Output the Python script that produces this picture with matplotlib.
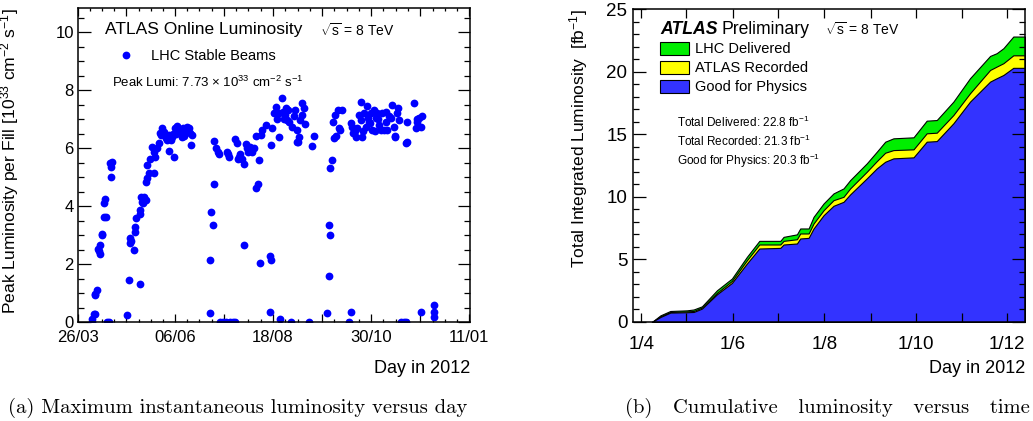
import numpy as np
import matplotlib
matplotlib.use("Agg")
import matplotlib.pyplot as plt

plt.rcParams['font.family'] = 'Liberation Sans'
plt.rcParams['mathtext.fontset'] = 'custom'
plt.rcParams['mathtext.rm'] = 'Liberation Sans'
plt.rcParams['mathtext.it'] = 'Liberation Sans:italic'
plt.rcParams['mathtext.bf'] = 'Liberation Sans:bold'

# ---- (a) peak luminosity per fill: day of year 2012, value in 1e33 cm-2 s-1
fill_day = [
    96.4, 96.4, 97.7, 98.9, 98.9, 100.1, 98.9, 100.8, 101.4, 102.2, 102.6, 103.9, 103.9,
    105.1, 106.3, 105.6, 106.5, 107.6, 108.8, 110.5, 110.8, 111.3, 110.1,
    122.5, 123.7, 124.4, 124.9, 125.4, 127.9, 128.7, 128.7, 129.4, 131.9, 131.9, 132.4,
    133.1, 133.6, 134.8, 136.2, 134.4, 136.2, 137.4, 137.4, 139.3, 138.6, 141.1, 142.4,
    142.4, 143.6, 144.8, 146.0, 146.8, 148.6, 149.8, 151.0, 152.2, 153.5, 153.5, 154.8,
    156.0, 157.2, 158.4, 159.6, 161.0, 162.2, 163.4, 164.1, 165.8, 167.2, 168.4, 169.6,
    170.8, 170.1, 147.5, 151.5, 156.6, 159.1, 162.2, 164.6,
    184.4, 184.4, 184.9, 186.2, 187.0, 187.0, 188.9, 190.0, 190.7, 191.9, 193.9, 195.7,
    196.9, 197.7, 198.1, 199.4, 201.4, 203.1, 203.1, 204.3, 204.8, 205.6, 206.8, 208.0,
    209.3, 209.8, 211.3, 211.8, 212.2, 213.7, 215.5, 216.7, 218.0, 219.8, 218.7, 220.5,
    221.2, 222.2, 222.9, 225.5, 228.6, 229.6, 229.1, 229.6, 230.4, 231.7, 232.9, 234.1,
    235.3, 236.5, 237.9, 238.6, 239.6, 240.8, 241.5, 244.1, 245.3, 246.5, 247.7, 248.6,
    249.0, 250.3, 251.0, 252.2, 252.7, 253.9, 254.5, 257.7, 260.1, 261.3,
    235.6, 239.2, 242.3, 242.8, 249.8,
    271.3, 272.5, 273.0, 273.2, 273.7, 275.0, 275.4, 276.2, 276.9, 278.1, 279.2, 279.9,
    281.2, 282.4, 287.4, 288.7, 288.7, 289.9, 290.6, 292.4, 293.2, 294.9, 296.1, 296.8,
    297.3, 298.6, 299.8, 301.1, 301.7, 303.1, 304.1, 304.8, 306.0, 307.3, 308.6, 309.8,
    311.0, 312.2, 313.6, 314.8, 316.0, 317.3, 318.5, 319.8, 321.0, 321.7, 323.0, 324.0,
    324.7, 326.0, 328.4, 329.6, 329.6, 330.9, 335.9, 337.1, 338.3, 339.6, 340.8, 341.3,
    342.0, 351.1, 351.1, 351.1,
    291.8, 298.0, 302.5, 306.8, 309.3, 315.4, 322.0, 330.3, 337.8,
]
fill_peak = [
    0.0, 0.12, 0.29, 0.29, 0.94, 1.12, 0.98, 2.53, 2.45, 2.65, 2.36, 3.05, 3.0,
    4.09, 4.23, 3.63, 3.63, 0.0, 0.0, 5.01, 5.36, 5.53, 5.5,
    0.23, 1.44, 2.71, 2.88, 2.8, 2.5, 3.28, 3.11, 3.57, 1.32, 3.86, 3.74,
    4.3, 4.15, 4.3, 4.2, 4.09, 4.84, 4.95, 5.41, 5.61, 5.15, 6.03, 5.88,
    5.15, 5.7, 5.99, 6.16, 6.53, 6.68, 6.57, 6.45, 6.28, 5.91, 6.45, 6.28,
    6.39, 5.7, 6.68, 6.76, 6.62, 6.51, 6.39, 6.68, 6.57, 6.74, 6.68, 6.51,
    6.45, 6.11, 6.45, 6.35, 6.5, 6.5, 6.6, 6.4,
    0.32, 2.13, 3.8, 3.34, 4.75, 6.24, 5.99, 5.86, 5.8, 0.0, 0.0, 0.0,
    5.88, 5.8, 5.7, 0.0, 0.0, 0.0, 6.3, 6.16, 5.61, 5.7, 5.8, 5.61,
    5.45, 2.65, 6.14, 5.99, 5.86, 6.05, 5.88, 5.99, 4.61, 4.76, 6.42, 5.59,
    2.05, 6.45, 6.62, 6.8, 2.27, 2.13, 0.35, 6.11, 6.68, 7.2, 7.41, 6.99,
    6.39, 0.12, 7.73, 7.26, 7.14, 7.37, 6.97, 0.0, 6.74, 7.09, 7.32, 6.62,
    6.22, 6.39, 6.97, 7.14, 7.55, 7.37, 6.83, 0.0, 6.07, 6.42,
    7.2, 7.0, 7.3, 6.9, 6.2,
    0.31, 1.6, 3.33, 3.0, 5.32, 5.59, 6.91, 6.34, 7.14, 6.42, 7.32, 6.68,
    6.62, 7.32, 0.0, 0.35, 6.85, 6.74, 6.51, 6.39, 6.68, 7.14, 6.97, 7.6,
    6.39, 7.2, 6.74, 7.45, 7.03, 6.85, 7.2, 6.62, 7.32, 7.03, 7.2, 6.8,
    6.63, 7.2, 6.62, 7.26, 6.62, 7.09, 7.03, 7.49, 6.74, 6.39, 7.2, 7.37,
    6.97, 0.0, 0.0, 0.0, 6.16, 6.91, 7.55, 6.68, 6.91, 7.03, 0.35, 6.74,
    7.09, 0.58, 0.35, 0.17,
    6.6, 6.6, 6.9, 6.6, 7.0, 6.9, 6.4, 6.2, 7.0,
]
a_tick_days = [86, 158, 231, 304, 377]
a_tick_labels = ['26/03', '06/06', '18/08', '30/10', '11/01']

# ---- (b) cumulative luminosity [fb-1]
cum_day = [99.0, 104.7, 111.3, 122.4, 126.9, 132.4, 142.4, 152.4, 162.4, 170.7,
           184.7, 186.9, 195.8, 198.0, 203.6, 206.9, 213.6, 220.2, 226.9, 231.3,
           242.4, 249.1, 254.7, 260.2, 273.6, 282.4, 289.1, 300.2, 311.3, 324.7,
           329.1, 333.6, 340.2, 348.0]
delivered = [0.0, 0.53, 0.88, 0.93, 1.0, 1.25, 2.53, 3.47, 5.2, 6.48,
             6.48, 6.8, 7.0, 7.47, 7.47, 8.4, 9.47, 10.27, 10.67, 11.33,
             12.67, 13.6, 14.4, 14.67, 14.75, 16.08, 16.13, 17.6, 19.47, 21.25,
             21.47, 21.87, 22.8, 22.8]
recorded = [0.0, 0.45, 0.8, 0.85, 0.88, 1.15, 2.32, 3.28, 4.93, 6.19,
            6.19, 6.48, 6.61, 7.07, 7.07, 7.87, 8.93, 9.73, 10.0, 10.67,
            12.0, 12.85, 13.52, 13.73, 13.79, 15.07, 15.12, 16.53, 18.27, 20.13,
            20.4, 20.67, 21.3, 21.3]
good = [0.0, 0.4, 0.75, 0.78, 0.8, 1.07, 2.21, 3.12, 4.67, 5.87,
        5.92, 6.19, 6.27, 6.67, 6.72, 7.47, 8.53, 9.28, 9.6, 10.19,
        11.47, 12.27, 12.8, 13.07, 13.15, 14.4, 14.45, 15.87, 17.6, 19.2,
        19.47, 19.73, 20.3, 20.3]
b_tick_days = [92, 122, 153, 183, 214, 245, 275, 306, 336]
b_tick_labels = ['1/4', '', '1/6', '', '1/8', '', '1/10', '', '1/12']

W, H = 1033, 421
fig = plt.figure(figsize=(W / 100, H / 100), dpi=100)

def frac(x0, y0, x1, y1):
    return [x0 / W, 1 - y1 / H, (x1 - x0) / W, (y1 - y0) / H]

# ---------------- left panel
ax = fig.add_axes(frac(78, 8, 470, 322))
ax.plot(fill_day, fill_peak, 'o', color='#0000ff', ms=5.6, mew=0,
        label='LHC Stable Beams')
ax.set_xlim(86, 377.5)
ax.set_ylim(0, 10.83)
halves = []
minors = []
for a, b in zip(a_tick_days[:-1], a_tick_days[1:]):
    halves += [a, (a + b) / 2]
    minors += list(np.linspace(a, b, 9)[1:-1])
halves.append(a_tick_days[-1])
ax.set_xticks(halves)
ax.set_xticklabels(sum([[l, ''] for l in a_tick_labels[:-1]], []) + [a_tick_labels[-1]])
ax.set_xticks(minors, minor=True)
ax.set_yticks(np.arange(0, 11, 2))
ax.set_yticks(np.arange(0, 11, 0.5), minor=True)
ax.tick_params(axis='both', which='both', direction='in', top=True, right=True,
               width=0.9, labelsize=12)
ax.tick_params(axis='y', which='major', length=9, pad=3)
ax.tick_params(axis='y', which='minor', length=4)
ax.tick_params(axis='x', which='major', length=5.5, pad=6)
ax.tick_params(axis='x', which='minor', length=2.5)
for s in ax.spines.values():
    s.set_linewidth(1.1)
ax.set_ylabel('Peak Luminosity per Fill [10$^{33}$ cm$^{-2}$ s$^{-1}$]',
              fontsize=12.6, loc='top')
ax.yaxis.set_label_coords(-0.145, 1.0)
ax.set_xlabel('Day in 2012', fontsize=13, loc='right')
ax.xaxis.set_label_coords(1.0, -0.12)

ax.text(0.069, 0.930, 'ATLAS Online Luminosity', transform=ax.transAxes,
        fontsize=12.5, va='center')
ax.text(0.617, 0.928, r'$\sqrt{\mathrm{s}}$ = 8 TeV', transform=ax.transAxes,
        fontsize=10, va='center')
ax.text(0.087, 0.764, 'Peak Lumi: 7.73 \u00d7 10$^{33}$ cm$^{-2}$ s$^{-1}$',
        transform=ax.transAxes, fontsize=9.5, va='center')
ax.legend(loc='center left', bbox_to_anchor=(0.075, 0.847), frameon=False,
          handlelength=1.0, handletextpad=1.2, fontsize=10.5, borderpad=0.3)

# ---------------- right panel
bx = fig.add_axes(frac(633, 9, 1025, 322))
h1 = bx.fill_between(cum_day, delivered, color='#00ee00', edgecolor='black',
                     lw=0.8, label='LHC Delivered')
h2 = bx.fill_between(cum_day, recorded, color='#ffff00', edgecolor='black',
                     lw=0.8, label='ATLAS Recorded')
h3 = bx.fill_between(cum_day, good, color='#3333ff', edgecolor='black',
                     lw=0.8, label='Good for Physics')
bx.set_xlim(86.4, 348)
bx.set_ylim(0, 25)
bx.set_xticks(b_tick_days)
bx.set_xticklabels(b_tick_labels)
bx.set_yticks(np.arange(0, 26, 5))
bx.set_yticks(np.arange(0, 26, 1), minor=True)
bx.tick_params(axis='both', which='both', direction='in', top=True, right=True,
               width=0.9, labelsize=13.5)
bx.tick_params(axis='y', which='major', length=9.5, pad=4)
bx.tick_params(axis='y', which='minor', length=4.5)
bx.tick_params(axis='x', which='major', length=6.5, pad=10)
for s in bx.spines.values():
    s.set_linewidth(1.1)
bx.set_ylabel('Total Integrated Luminosity  [fb$^{-1}$]', fontsize=12.5, loc='top')
bx.yaxis.set_label_coords(-0.11, 1.0)
bx.set_xlabel('Day in 2012', fontsize=13, loc='right')
bx.xaxis.set_label_coords(1.0, -0.12)

bx.text(0.069, 0.936, 'ATLAS', transform=bx.transAxes, fontsize=12.7,
        fontweight='bold', fontstyle='italic', va='center')
bx.text(0.227, 0.936, 'Preliminary', transform=bx.transAxes, fontsize=12.7,
        va='center')
bx.text(0.49, 0.934, r'$\sqrt{\mathrm{s}}$ = 8 TeV', transform=bx.transAxes,
        fontsize=10, va='center')
bx.legend(handles=[h1, h2, h3], loc='upper left', bbox_to_anchor=(0.069, 0.895),
          frameon=False, fontsize=10.5, handlelength=2.0, handleheight=1.0,
          handletextpad=0.4, labelspacing=0.3, borderpad=0, borderaxespad=0)
bx.text(0.112, 0.639, 'Total Delivered: 22.8 fb$^{-1}$', transform=bx.transAxes,
        fontsize=8.5, va='center')
bx.text(0.112, 0.578, 'Total Recorded: 21.3 fb$^{-1}$', transform=bx.transAxes,
        fontsize=8.5, va='center')
bx.text(0.112, 0.514, 'Good for Physics: 20.3 fb$^{-1}$', transform=bx.transAxes,
        fontsize=8.5, va='center')

# ---------------- captions (the (b) line is justified in the source, wide spaces)
fig.text(8 / W, 1 - 408 / H, '(a) Maximum instantaneous luminosity versus day',
         family='cmr10', fontsize=14.8, va='center')
fig.text(625 / W, 1 - 408 / H, '(b)   Cumulative   luminosity   versus   time',
         family='cmr10', fontsize=14.8, va='center')

fig.savefig('out.png', dpi=100)
